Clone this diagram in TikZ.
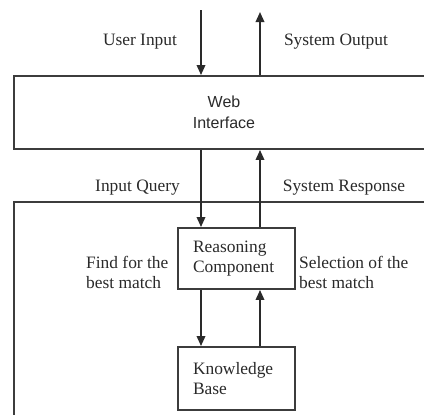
\documentclass[tikz,border=0pt]{standalone}
\usepackage{fontspec}
\setmainfont{Liberation Serif}
\newfontfamily\uisans{Liberation Sans}
\usetikzlibrary{arrows.meta}
\definecolor{ink}{HTML}{2A2A2A}
\definecolor{edge}{HTML}{3C3C3C}
\tikzset{
  frame/.style={draw=edge, line width=1.9pt, rectangle, inner sep=0pt},
  unit/.style={frame, minimum width=117pt, minimum height=61pt,
    inner xsep=15pt, text width=87pt, align=left, text=ink,
    font=\fontsize{17.4}{20}\selectfont},
  lbl/.style={text=ink, inner sep=0pt, font=\fontsize{17.4}{20}\selectfont},
  side/.style={lbl, align=left, anchor=west},
  flow/.style={draw=ink, line width=1.8pt, -{Triangle[length=10pt,width=8.5pt]}}
}
\begin{document}
\begin{tikzpicture}[x=1pt, y=-1pt]
\useasboundingbox (0,0) rectangle (424,415);
\clip (0,0) rectangle (424,415);
\fill[white] (0,0) rectangle (424,415);

% interface strip and the enclosing system frame (both run off the page)
\node[frame, minimum width=420pt, minimum height=73pt, align=center,
  text=ink, font=\uisans\fontsize{16}{21}\selectfont]
  (web) at (224,112.5) {Web\\Interface};
\node[frame, minimum width=440pt, minimum height=240pt] (sys) at (234,322) {};

% inner components
\node[unit] (rc) at (236.5,258.5) {Reasoning\\Component};
\node[unit, minimum height=63pt] (kb) at (236.5,378.5) {Knowledge\\Base};

% connector columns
\coordinate (uin) at (201,10);
\coordinate (sout) at (260,12);

\draw[flow] (uin) -- (uin |- web.north);
\draw[flow] (web.north -| sout) -- (sout);
\draw[flow] (web.south -| uin) -- (rc.north -| uin);
\draw[flow] (rc.north -| sout) -- (web.south -| sout);
\draw[flow] (rc.south -| uin) -- (kb.north -| uin);
\draw[flow] (kb.north -| sout) -- (rc.south -| sout);

% labels
\node[lbl] (ui) at (140,42) {User Input};
\node[lbl] (so) at (336,42) {System Output};
\node[lbl] (iq) at (137.5,188) {Input Query};
\node[lbl] (sr) at (344,188) {System Response};
\node[side] (ff) at (86,272.5) {Find for the\\best match};
\node[side] (sel) at (299,272.5) {Selection of the\\best match};
\end{tikzpicture}
\end{document}
